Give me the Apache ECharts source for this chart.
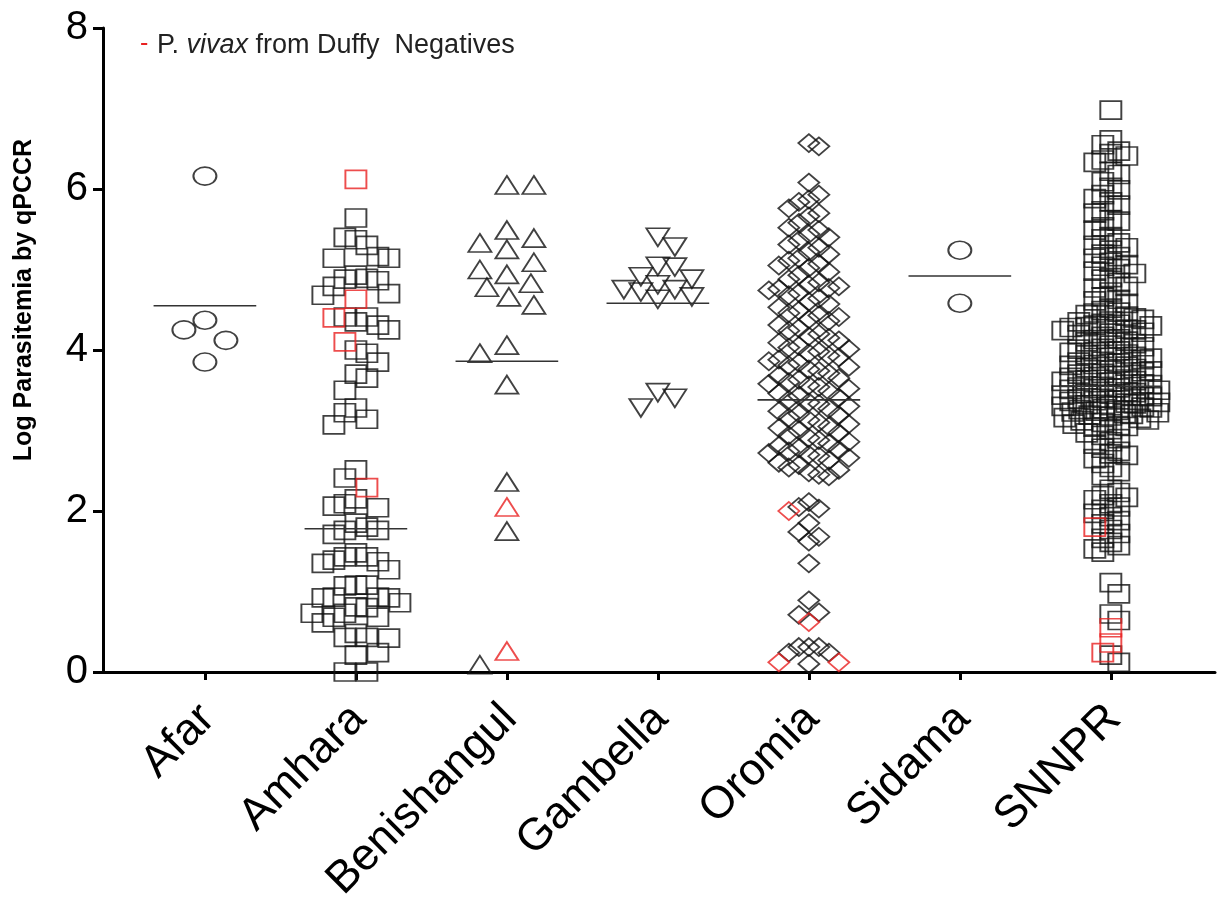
<!DOCTYPE html>
<html><head><meta charset="utf-8">
<script src="https://cdn.jsdelivr.net/npm/echarts@6/dist/echarts.min.js"></script>
<style>html,body{margin:0;padding:0;background:#fff}#c{width:1221px;height:909px}</style>
</head><body><div id="c"></div>
<script>
// ---------- data ----------
const categories = ['Afar','Amhara','Benishangul','Gambella','Oromia','Sidama','SNNPR'];
const yTicks = [0, 2, 4, 6, 8];

const afar = [6.16, 4.37, 4.25, 4.12, 3.85];
const afarDN = [];

const amhara = [5.64, 5.40, 5.37, 5.30, 5.16, 5.14, 5.14, 4.93, 4.89, 4.88, 4.86, 4.79, 4.70, 4.68,
  4.41, 4.41, 4.35, 4.31, 4.25, 4.00, 3.96, 3.85, 3.70, 3.65, 3.50, 3.28, 3.22, 3.14, 3.07,
  2.51, 2.41, 2.15, 2.09, 2.06, 2.04, 1.85, 1.80, 1.76, 1.76, 1.71, 1.48, 1.43, 1.43, 1.39,
  1.37, 1.35, 1.27, 1.08, 1.08, 1.07, 0.93, 0.93, 0.92, 0.92, 0.86, 0.81, 0.80, 0.73, 0.73,
  0.68, 0.68, 0.61, 0.48, 0.43, 0.43, 0.42, 0.24, 0.21, 0.00, 0.00];
const amharaDN = [6.12, 4.63, 4.40, 4.10, 2.29];

const benishangul = [6.05, 6.05, 5.49, 5.39, 5.33, 5.25, 5.09, 5.00, 4.94, 4.83, 4.78, 4.66,
  4.56, 4.06, 3.96, 3.57, 2.36, 1.75, 0.09];
const benishangulDN = [2.05, 0.26];

const gambella = [5.40, 5.28, 5.04, 5.03, 4.91, 4.88, 4.81, 4.75, 4.75, 4.72, 4.66, 4.63, 3.47, 3.40, 3.28];
const gambellaDN = [];

const oromia = [6.57, 6.53, 6.08, 5.93, 5.87, 5.84, 5.76, 5.70, 5.66, 5.58, 5.52, 5.49, 5.44, 5.40,
  5.36, 5.31, 5.27, 5.22, 5.19, 5.14, 5.11, 5.07, 5.05, 5.02, 4.97, 4.93, 4.88, 4.84, 4.81, 4.79,
  4.77, 4.76, 4.74, 4.71, 4.68, 4.64, 4.60, 4.57, 4.53, 4.49, 4.46, 4.43, 4.41, 4.38, 4.36, 4.31,
  4.27, 4.24, 4.20, 4.17, 4.15, 4.12, 4.09, 4.05, 4.03, 4.01, 3.98, 3.96, 3.93, 3.91, 3.88, 3.86,
  3.84, 3.81, 3.79, 3.76, 3.74, 3.71, 3.68, 3.65, 3.63, 3.60, 3.58, 3.56, 3.54, 3.52, 3.49, 3.46,
  3.43, 3.41, 3.38, 3.35, 3.33, 3.30, 3.27, 3.24, 3.21, 3.19, 3.16, 3.13, 3.10, 3.08, 3.05, 3.03,
  3.00, 2.97, 2.94, 2.91, 2.88, 2.86, 2.84, 2.81, 2.78, 2.76, 2.74, 2.72, 2.70, 2.68, 2.66, 2.63,
  2.60, 2.57, 2.54, 2.51, 2.48, 2.45, 2.43,
  2.11, 2.05, 2.03, 1.85, 1.74, 1.68, 1.62, 1.35, 0.89, 0.74, 0.71, 0.31, 0.31, 0.31, 0.24, 0.24, 0.10];
const oromiaDN = [2.00, 0.62, 0.12, 0.12];

const sidama = [5.24, 4.58];
const sidamaDN = [];

const snnpr = [6.98, 6.61, 6.55, 6.47, 6.44, 6.41, 6.36, 6.33, 6.22, 6.18, 6.09, 6.02, 5.99, 5.93,
  5.88, 5.84, 5.80, 5.73, 5.70, 5.62, 5.60, 5.53, 5.49, 5.41, 5.38, 5.33, 5.30, 5.27, 5.24, 5.19,
  5.16, 5.14, 5.09, 5.06, 5.04, 5.01, 4.98, 4.95, 4.90, 4.88, 4.84, 4.79, 4.77, 4.72, 4.66, 4.63,
  4.61, 4.58, 4.52, 4.49, 4.46, 4.42, 4.38, 4.36, 4.33, 4.31, 4.30, 4.28, 4.26, 4.25, 4.22, 4.19,
  4.14, 4.11, 4.08, 4.04, 4.01, 3.98, 3.97, 3.94, 3.92, 3.90, 3.86, 3.85, 3.82, 3.80, 3.77, 3.74,
  3.73, 3.70, 3.68, 3.66, 3.63, 3.61, 3.60, 3.58, 3.55, 3.53, 3.52, 3.50, 3.47, 3.45, 3.44, 3.42,
  3.40, 3.38, 3.37, 3.35, 3.33, 3.32, 3.30, 3.28, 3.27, 3.25, 3.24, 3.22, 3.20, 3.18, 3.15, 3.13,
  3.10, 3.06, 3.04, 3.01, 2.97, 2.94, 2.90, 2.86, 2.83, 2.78, 2.74, 2.71, 2.69, 2.65, 2.59, 2.54,
  2.49, 2.44, 2.27, 2.23, 2.19, 2.17, 2.14, 2.09, 2.05, 2.02, 1.97, 1.93, 1.88, 1.84, 1.77, 1.72,
  1.66, 1.61, 1.57, 1.53, 1.49, 1.11, 0.97, 0.72, 0.64, 0.21, 0.12,
  4.47, 4.44, 4.40, 4.35, 4.32, 4.29, 4.24, 4.21, 4.17, 4.13, 4.10, 4.06, 4.02, 3.99, 3.95, 3.91,
  3.88, 3.84, 3.81, 3.78, 3.75, 3.71, 3.67, 3.64, 3.62, 3.57, 3.54, 3.51, 3.48, 3.46, 3.43, 3.39,
  3.36, 3.34, 3.31, 3.29, 3.26, 3.23, 3.21, 3.19, 3.16, 3.12, 3.08, 3.05];
const snnprDN = [1.80, 0.55, 0.36, 0.24];

// horizontal line per group, as drawn in the reference
const groupLines = [4.55, 1.78, 3.86, 4.58, 3.38, 4.92, 3.55];

// ---------- styling / layout ----------
const ELLIPSE = 'path://M0,50 A50,50 0 1 1 100,50 A50,50 0 1 1 0,50 Z';
const groupStyle = [
  {black: afar, red: afarDN, symbol: ELLIPSE, size: [23, 18], rot: 0, dx: 21, dy: 22, half: 40},
  {black: amhara, red: amharaDN, symbol: 'rect', size: [21, 18], rot: 0, dx: 11, dy: 21, half: 46},
  {black: benishangul, red: benishangulDN, symbol: 'triangle', size: [23, 18], rot: 0, dx: 27, dy: 24, half: 42},
  {black: gambella, red: gambellaDN, symbol: 'triangle', size: [23, 18], rot: 180, dx: 17, dy: 16, half: 44},
  {black: oromia, red: oromiaDN, symbol: 'diamond', size: [21, 18], rot: 0, dx: 10, dy: 16, half: 50},
  {black: sidama, red: sidamaDN, symbol: ELLIPSE, size: [23, 18], rot: 0, dx: 22, dy: 22, half: 40},
  {black: snnpr, red: snnprDN, symbol: 'rect', size: [21, 18], rot: 0, dx: 8, dy: 12, half: 50}
];
const X_MIN = -0.675, X_MAX = 6.69;
const FONT = '"Liberation Sans", Arial, sans-serif';

const chart = echarts.init(document.getElementById('c'), null, {renderer: 'canvas'});
const base = {
  animation: false,
  backgroundColor: '#ffffff',
  grid: {left: 103, right: 6, top: 28, bottom: 237, containLabel: false, outerBoundsMode: 'none'},
  xAxis: {
    type: 'value', min: X_MIN, max: X_MAX,
    splitLine: {show: false},
    axisLine: {show: true, onZero: false, lineStyle: {color: '#000', width: 3}},
    axisTick: {show: true, length: 8, customValues: categories.map((c, i) => i), lineStyle: {color: '#000', width: 3}},
    axisLabel: {
      customValues: categories.map((c, i) => i + 0.02),
      formatter: v => categories[Math.round(v - 0.02)],
      rotate: 45, margin: 40, fontSize: 45, color: '#000', fontFamily: FONT
    }
  },
  yAxis: {
    type: 'value', min: yTicks[0], max: yTicks[yTicks.length - 1], interval: 2,
    splitLine: {show: false},
    axisLine: {show: true, onZero: false, lineStyle: {color: '#000', width: 3}},
    axisTick: {show: true, length: 10, lineStyle: {color: '#000', width: 3}},
    axisLabel: {margin: 15, fontSize: 40, color: '#000', fontFamily: FONT}
  },
  graphic: [
    {type: 'text', left: 140, top: 32, style: {text: '-', fill: '#e82020', font: '25px ' + FONT}},
    {type: 'text', left: 157, top: 32, style: {
      text: '{n|P. }{i|vivax}{n| from Duffy  Negatives}',
      rich: {
        n: {fontSize: 27, fontFamily: FONT, fill: '#222'},
        i: {fontSize: 27, fontFamily: FONT, fontStyle: 'italic', fill: '#222'}
      }
    }},
    {type: 'text', x: 24, y: 300, rotation: Math.PI / 2, style: {
      text: 'Log Parasitemia by qPCCR', fill: '#000', align: 'center', verticalAlign: 'middle',
      font: 'bold 25px ' + FONT
    }}
  ],
  series: []
};
chart.setOption(base);

let pxX = NaN, pxY = NaN;
try {
  const a = chart.convertToPixel({gridIndex: 0}, [0, 0]);
  const b = chart.convertToPixel({gridIndex: 0}, [1, 1]);
  pxX = b[0] - a[0]; pxY = a[1] - b[1];
} catch (e) {}
if (!isFinite(pxX) || !pxX) { pxX = (1221 - 103 - 6) / (X_MAX - X_MIN); pxY = (909 - 28 - 237) / 8; }

function swarm(blackVals, redVals, lay) {
  const pts = blackVals.map(v => ({v, red: false})).concat(redVals.map(v => ({v, red: true})));
  pts.sort((a, b) => b.v - a.v);
  const placed = [];
  pts.forEach((p, idx) => {
    const y = p.v * pxY;
    let best = 0, bestScore = -1;
    const sgn = idx % 2 ? 1 : -1;
    for (let k = 0; k <= 2 * lay.half; k++) {
      const off = k === 0 ? 0 : (k % 2 ? sgn * (k + 1) / 2 : -sgn * k / 2);
      let minD = Infinity;
      for (const q of placed) {
        const d = Math.max(Math.abs(q.x - off) / lay.dx, Math.abs(q.y - y) / lay.dy);
        if (d < minD) minD = d;
      }
      if (minD >= 1) { best = off; break; }
      if (minD > bestScore + 1e-9) { bestScore = minD; best = off; }
    }
    placed.push({x: best, y, v: p.v, red: p.red});
  });
  return placed.map(q => ({dx: q.x / pxX, v: q.v, red: q.red}));
}

const series = [];
groupStyle.forEach((g, i) => {
  const pts = swarm(g.black, g.red, g);
  const common = {
    type: 'scatter', symbol: g.symbol, symbolSize: g.size, symbolRotate: g.rot, silent: true,
    emphasis: {disabled: true}
  };
  series.push(Object.assign({}, common, {
    z: 2,
    data: pts.filter(p => !p.red).map(p => [i + p.dx, p.v]),
    itemStyle: {color: 'rgba(255,255,255,0)', borderColor: '#111', borderWidth: 1.8}
  }));
  if (g.red.length) {
    series.push(Object.assign({}, common, {
      z: 3,
      data: pts.filter(p => p.red).map(p => [i + p.dx, p.v]),
      itemStyle: {color: 'rgba(255,255,255,0)', borderColor: '#e82020', borderWidth: 1.8}
    }));
  }
  series.push({
    type: 'line', z: 4, silent: true, symbol: 'none',
    data: [[i - 0.34, groupLines[i]], [i + 0.34, groupLines[i]]],
    lineStyle: {color: '#333', width: 1.6}
  });
});
chart.setOption({series});
</script>
</body></html>
